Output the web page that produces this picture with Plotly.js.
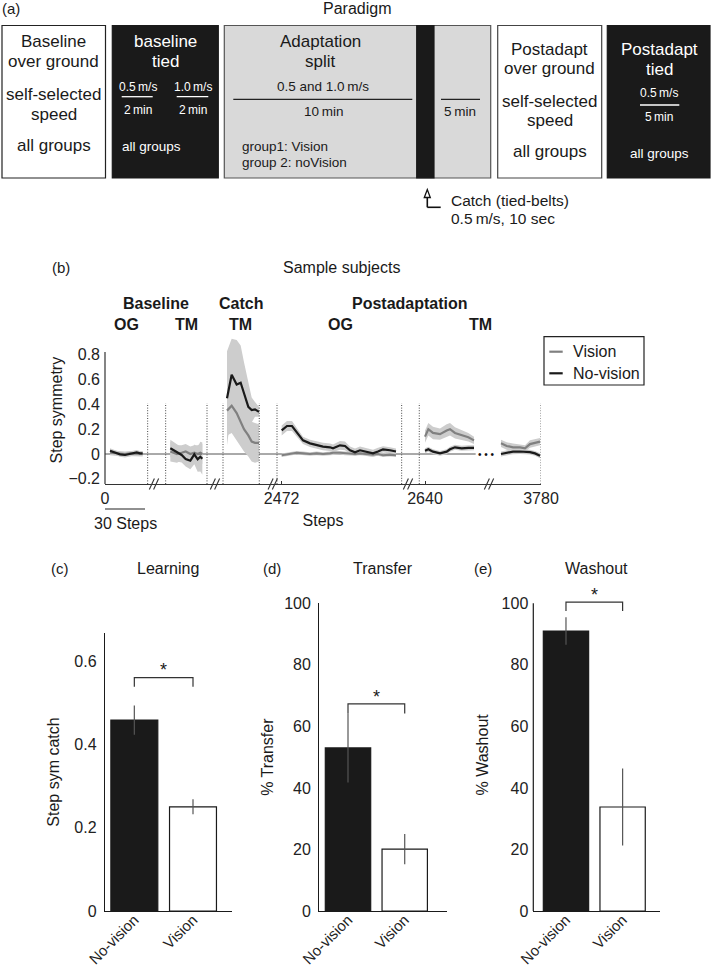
<!DOCTYPE html>
<html>
<head>
<meta charset="utf-8">
<script src="https://cdn.plot.ly/plotly-3.0.1.min.js"></script>
<style>html,body{margin:0;padding:0;background:#fff;}#chart{width:711px;height:971px;}</style>
</head>
<body>
<div id="chart"></div>
<script>
// ================= DATA =================
const groupNames = ['No-vision', 'Vision'];

// Panel (b): sample subjects, step symmetry; x = displayed steps on a broken axis
const baseOG_x    = [3.75, 7.5, 11.25, 15, 18.75, 21.25, 23.75, 26.25, 28.25];
const baseOG_nv   = [0.027, 0.01, -0.003, -0.008, 0.0, 0.01, 0.013, 0.005, 0.005];
const baseOG_v    = [0.01, 0.005, 0.0, 0.0, 0.005, 0.005, 0.0, 0.0, 0.0];
const baseOG_nvSd = [0.02, 0.02, 0.02, 0.02, 0.02, 0.02, 0.02, 0.02, 0.02];
const baseOG_vSd  = [0.02, 0.02, 0.02, 0.02, 0.02, 0.02, 0.02, 0.02, 0.02];

const baseTM_x    = [49, 54, 57.5, 60.5, 64, 67, 69.5, 71.5, 73];
const baseTM_nv   = [0.046, 0.01, -0.008, -0.04, -0.054, -0.003, -0.043, -0.022, -0.038];
const baseTM_v    = [0.02, 0.0, 0.01, 0.02, 0.0, 0.01, 0.0, 0.01, 0.0];
const baseTM_nvSd = [0.07, 0.07, 0.06, 0.06, 0.07, 0.08, 0.1, 0.12, 0.13];
const baseTM_vSd  = [0.08, 0.07, 0.06, 0.06, 0.06, 0.06, 0.07, 0.07, 0.08];

const catch_x     = [91.5, 95, 98.75, 101.75, 104.25, 107.5, 110, 112.5, 115.5];
const catch_nv    = [0.45, 0.64, 0.56, 0.575, 0.49, 0.38, 0.355, 0.36, 0.34];
const catch_v     = [0.35, 0.39, 0.33, 0.26, 0.2, 0.15, 0.1, 0.09, 0.09];
const catch_nvSd  = [0.38, 0.29, 0.36, 0.3, 0.25, 0.19, 0.1, 0.06, 0.04];
const catch_vSd   = [0.2, 0.22, 0.22, 0.2, 0.18, 0.17, 0.16, 0.16, 0.15];

const postOG_x    = [132.5, 136.5, 140.25, 143.75, 148.5, 153.75, 158.75, 163.5, 168.75, 171, 176.25, 180, 183.75, 187.5, 191.25, 196.25, 201, 204.75, 208.5, 213.75, 218.25];
const postOG_nv   = [0.19, 0.226, 0.226, 0.18, 0.11, 0.086, 0.07, 0.06, 0.054, 0.046, 0.07, 0.065, 0.03, 0.014, 0.03, 0.014, 0.005, 0.02, 0.038, 0.03, 0.02];
const postOG_v    = [-0.01, -0.005, 0.005, 0.01, 0.005, 0.0, 0.005, 0.0, 0.005, 0.01, 0.01, 0.005, 0.0, 0.0, 0.005, 0.0, -0.005, 0.0, -0.01, -0.005, -0.01];
const postOG_nvSd = [0.04, 0.04, 0.04, 0.035, 0.03, 0.03, 0.03, 0.03, 0.03, 0.03, 0.035, 0.035, 0.03, 0.03, 0.03, 0.03, 0.03, 0.03, 0.025, 0.025, 0.025];
const postOG_vSd  = [0.015, 0.015, 0.015, 0.015, 0.015, 0.015, 0.015, 0.015, 0.015, 0.015, 0.015, 0.015, 0.015, 0.015, 0.015, 0.015, 0.015, 0.015, 0.015, 0.015, 0.015];

const postTM1_x    = [240, 242.5, 246, 251.25, 256.25, 258.75, 262.5, 267.5, 272.5, 276.75];
const postTM1_nv   = [0.027, 0.038, 0.019, 0.005, 0.019, 0.038, 0.054, 0.046, 0.05, 0.05];
const postTM1_v    = [0.14, 0.2, 0.17, 0.16, 0.19, 0.2, 0.17, 0.15, 0.135, 0.11];
const postTM1_nvSd = [0.02, 0.02, 0.02, 0.02, 0.02, 0.02, 0.02, 0.02, 0.02, 0.02];
const postTM1_vSd  = [0.05, 0.05, 0.05, 0.045, 0.05, 0.05, 0.045, 0.04, 0.035, 0.03];

const postTM2_x    = [297, 301.25, 306, 311.25, 315, 318.75, 322.5, 326.25];
const postTM2_nv   = [0.0, 0.01, 0.019, 0.02, 0.02, 0.015, 0.005, -0.014];
const postTM2_v    = [0.086, 0.065, 0.054, 0.054, 0.046, 0.08, 0.09, 0.1];
const postTM2_nvSd = [0.02, 0.02, 0.02, 0.02, 0.02, 0.02, 0.02, 0.02];
const postTM2_vSd  = [0.03, 0.03, 0.03, 0.025, 0.025, 0.03, 0.03, 0.03];

const stepTickPos  = [0, 132.5, 240, 327];
const stepTickText = ['0', '2472', '2640', '3780'];
const boundaryX    = [32, 45.5, 76.5, 88.5, 115.7, 129, 222.5, 235.7, 327];
const breakX       = [36.75, 82.5, 125.8, 227.25, 288];
const scaleBarSteps = 30;

// Panels (c)-(e): group means and SE
const learnMean    = [0.458, 0.25];
const learnErr     = [0.035, 0.018];
const learnBracket = [0.538, 0.56];
const transferMean    = [53, 20.1];
const transferErr     = [11.2, 4.9];
const transferBracket = [64.2, 67.3];
const washoutMean    = [91, 33.8];
const washoutErr     = [4.5, 12.5];
const washoutBracket = [97.5, 100.4];

// ================= HELPERS =================
const W = 711, H = 971;
const FONT = 'Liberation Sans, Arial, Helvetica, sans-serif';
const PX = v => v / W;
const PY = v => 1 - v / H;
const DARK = '#1a1a1a', MID = '#808080', BAND = '#cdcdcd';

const traces = [];
const segs = [
  [baseOG_x, baseOG_nv, baseOG_v, baseOG_nvSd, baseOG_vSd],
  [baseTM_x, baseTM_nv, baseTM_v, baseTM_nvSd, baseTM_vSd],
  [catch_x, catch_nv, catch_v, catch_nvSd, catch_vSd],
  [postOG_x, postOG_nv, postOG_v, postOG_nvSd, postOG_vSd],
  [postTM1_x, postTM1_nv, postTM1_v, postTM1_nvSd, postTM1_vSd],
  [postTM2_x, postTM2_nv, postTM2_v, postTM2_nvSd, postTM2_vSd]
];
function bandTrace(x, m, sd) {
  const up = m.map((v, i) => v + sd[i]);
  const lo = m.map((v, i) => v - sd[i]);
  return {x: x.concat(x.slice().reverse()), y: up.concat(lo.slice().reverse()),
    type: 'scatter', mode: 'lines', fill: 'toself', fillcolor: BAND,
    line: {width: 0, color: BAND}, hoverinfo: 'skip', showlegend: false,
    xaxis: 'x', yaxis: 'y'};
}
segs.forEach(s => { traces.push(bandTrace(s[0], s[2], s[4])); traces.push(bandTrace(s[0], s[1], s[3])); });
segs.forEach(s => {
  traces.push({x: s[0], y: s[2], type: 'scatter', mode: 'lines', line: {color: MID, width: 2.2},
    showlegend: false, xaxis: 'x', yaxis: 'y', name: 'Vision'});
  traces.push({x: s[0], y: s[1], type: 'scatter', mode: 'lines', line: {color: DARK, width: 2.2},
    showlegend: false, xaxis: 'x', yaxis: 'y', name: 'No-vision'});
});

function barPanel(mean, err, bracket, ax) {
  traces.push({type: 'bar', x: groupNames, y: mean, width: 0.8,
    marker: {color: [DARK, '#ffffff'], line: {color: DARK, width: 1.2}},
    error_y: {type: 'data', array: err, visible: true, color: '#555', thickness: 1.2, width: 0},
    xaxis: 'x' + ax, yaxis: 'y' + ax, showlegend: false, hoverinfo: 'skip'});
  traces.push({type: 'scatter', mode: 'lines',
    x: [groupNames[0], groupNames[0], groupNames[1], groupNames[1]],
    y: [bracket[0], bracket[1], bracket[1], bracket[0]],
    line: {color: '#333', width: 1.2}, cliponaxis: false,
    xaxis: 'x' + ax, yaxis: 'y' + ax, showlegend: false, hoverinfo: 'skip'});
}
barPanel(learnMean, learnErr, learnBracket, 2);
barPanel(transferMean, transferErr, transferBracket, 3);
barPanel(washoutMean, washoutErr, washoutBracket, 4);

// ================= SHAPES =================
const shapes = [];
function rect(x0, y0, x1, y1, fill, line) {
  shapes.push({type: 'rect', xref: 'paper', yref: 'paper', x0: PX(x0), x1: PX(x1), y0: PY(y1), y1: PY(y0),
    fillcolor: fill, line: {color: line, width: 1.2}});
}
function seg(x0, y0, x1, y1, color, w) {
  shapes.push({type: 'line', xref: 'paper', yref: 'paper', x0: PX(x0), x1: PX(x1), y0: PY(y0), y1: PY(y1),
    line: {color: color, width: w || 1.3}});
}
// Panel (a) paradigm boxes
rect(2, 25.5, 105.5, 178, '#ffffff', '#222');
rect(112.3, 25.5, 218.3, 178, DARK, DARK);
rect(224.3, 25.5, 490.7, 178, '#d9d9d9', '#555');
rect(416.7, 25.5, 434, 178, DARK, DARK);
rect(497.7, 25.5, 601.7, 178, '#ffffff', '#444');
rect(607.3, 25.5, 710, 178, DARK, DARK);
seg(121.7, 96.7, 152.7, 96.7, '#fff');
seg(176.7, 96.7, 208.3, 96.7, '#fff');
seg(233.3, 99.3, 412.3, 99.3, '#222');
seg(441, 99.3, 480, 99.3, '#222');
seg(640, 105, 679.3, 105, '#fff');
// catch arrow
seg(427.3, 207.3, 427.3, 192, '#111', 1.6);
seg(427.3, 207.3, 440.7, 207.3, '#111', 1.6);
shapes.push({type: 'path', xref: 'paper', yref: 'paper',
  path: 'M ' + PX(424.3) + ' ' + PY(197.5) + ' L ' + PX(427.3) + ' ' + PY(189.5) + ' L ' + PX(430.3) + ' ' + PY(197.5) + ' Z',
  fillcolor: '#fff', line: {color: '#111', width: 1.3}});

// Panel (b) decorations
shapes.push({type: 'line', xref: 'x domain', yref: 'y', x0: 0, x1: 0, y0: -0.242, y1: 0.823,
  line: {color: '#333', width: 1.2}});
shapes.push({type: 'line', xref: 'x', yref: 'y', x0: 0, x1: 278, y0: 0, y1: 0, layer: 'below',
  line: {color: '#555', width: 1}});
boundaryX.forEach(b => shapes.push({type: 'line', xref: 'x', yref: 'y', x0: b, x1: b, y0: -0.242, y1: 0.41,
  line: {color: '#444', width: 1, dash: '1px,1.6px'}}));
// axis-break marks "//" drawn as two short slanted strokes
breakX.forEach(b => {
  [-1.6, 1.6].forEach(off => shapes.push({type: 'line', xref: 'x', yref: 'paper',
    x0: b + off - 1.9, x1: b + off + 1.9, y0: PY(489.5), y1: PY(478.5),
    line: {color: '#333', width: 1.1}}));
});
shapes.push({type: 'line', xref: 'x', yref: 'paper', x0: 0, x1: scaleBarSteps, y0: PY(509), y1: PY(509),
  line: {color: '#222', width: 1.2}});
// y axis line for (e), ending at 100
shapes.push({type: 'line', xref: 'x4 domain', yref: 'y4', x0: 0, x1: 0, y0: 0, y1: 100,
  line: {color: DARK, width: 1.2}});
// manual legend
rect(544, 336.7, 644, 385, '#ffffff', '#222');
seg(549.3, 351.7, 562.7, 351.7, MID, 2.2);
seg(549.3, 373.3, 562.7, 373.3, DARK, 2.2);

// ================= ANNOTATIONS =================
const ann = [];
function T(text, x, y, size, opts) {
  opts = opts || {};
  ann.push({text: text, x: PX(x), y: PY(y), xref: 'paper', yref: 'paper', showarrow: false,
    xanchor: opts.anchor || 'center', yanchor: 'middle',
    font: {family: FONT, size: size, color: opts.color || '#1a1a1a'}});
}
const WH = '#ffffff';
T('(a)', 11, 8, 15);
T('Paradigm', 357, 8, 16);
// box 1
T('Baseline', 53.5, 41, 17); T('over ground', 53.5, 61, 17);
T('self-selected', 53.5, 95, 17); T('speed', 53.5, 114.5, 17); T('all groups', 53.5, 145.5, 17);
// box 2
T('baseline', 165.3, 41, 17, {color: WH}); T('tied', 165.3, 61, 17, {color: WH});
T('0.5\u2009m/s', 137.8, 86.7, 12, {color: WH}); T('1.0\u2009m/s', 192.8, 86.7, 12, {color: WH});
T('2\u2009min', 137.8, 110, 12, {color: WH}); T('2\u2009min', 192.8, 110, 12, {color: WH});
T('all groups', 120, 146, 13.5, {color: WH, anchor: 'left'});
// box 3
T('Adaptation', 320, 41, 17); T('split', 320, 61, 17);
T('0.5 and 1.0\u2009m/s', 323, 86, 13.5); T('10\u2009min', 323, 112, 13.5);
T('group1: Vision', 240, 146, 13.5, {anchor: 'left'});
T('group 2: noVision', 240, 162.7, 13.5, {anchor: 'left'});
T('5\u2009min', 460, 112, 13.5);
// box 4
T('Postadapt', 549.7, 49.3, 17); T('over ground', 549.7, 68.3, 17);
T('self-selected', 549.7, 101.7, 17); T('speed', 549.7, 120.7, 17); T('all groups', 549.7, 151.7, 17);
// box 5
T('Postadapt', 659.3, 49.3, 17, {color: WH}); T('tied', 659.3, 70, 17, {color: WH});
T('0.5\u2009m/s', 659.3, 93.3, 12, {color: WH}); T('5\u2009min', 659.3, 117.3, 12, {color: WH});
T('all groups', 659.3, 154, 13.5, {color: WH});
// catch note
T('Catch (tied-belts)', 449.3, 200, 15.5, {anchor: 'left'});
T('0.5\u2009m/s, 10 sec', 449.3, 218.3, 15.5, {anchor: 'left'});

// Panel (b)
T('(b)', 61, 267, 15);
T('Sample subjects', 341, 267, 16);
function phase(text, xs, y) {
  ann.push({text: '<b>' + text + '</b>', x: xs, y: PY(y), xref: 'x', yref: 'paper', showarrow: false,
    xanchor: 'center', yanchor: 'middle', font: {family: FONT, size: 16, color: '#1a1a1a'}});
}
phase('Baseline', 38.25, 303); phase('Catch', 101.8, 303); phase('Postadaptation', 228.75, 303);
phase('OG', 15.75, 324); phase('TM', 60.75, 324); phase('TM', 101.8, 324);
phase('OG', 176.25, 324); phase('TM', 281.8, 324);
ann.push({text: '\u2022 \u2022 \u2022', x: 286, y: 0, xref: 'x', yref: 'y', showarrow: false,
  xanchor: 'center', yanchor: 'middle', font: {family: FONT, size: 10, color: '#111'}});
ann.push({text: '30 Steps', x: scaleBarSteps / 2, y: PY(523), xref: 'x', yref: 'paper', showarrow: false,
  xanchor: 'center', yanchor: 'middle', font: {family: FONT, size: 16, color: '#1a1a1a'}});
T('Vision', 570.7, 351.7, 16, {anchor: 'left'});
T('No-vision', 570.7, 373.3, 16, {anchor: 'left'});

// Panels (c)-(e)
T('(c)', 60, 568, 15); T('Learning', 168, 568, 16);
T('(d)', 271.7, 568, 15); T('Transfer', 383.3, 568, 16);
T('(e)', 483.3, 568, 15); T('Washout', 596.7, 568, 16);
function star(ax, ypx) {
  ann.push({text: '*', x: 0.5, y: PY(ypx), xref: 'x' + ax, yref: 'paper', showarrow: false,
    xanchor: 'center', yanchor: 'middle', font: {family: FONT, size: 18, color: '#1a1a1a'}});
}
star(2, 670); star(3, 697.3); star(4, 594.7);

// ================= LAYOUT =================
const tickFont = {family: FONT, size: 16, color: '#222'};
function barX(dom, rng) {
  return {domain: dom, range: rng, type: 'category', showline: true, linecolor: DARK, linewidth: 1.2,
    ticks: '', showgrid: false, zeroline: false, tickangle: -45, tickfont: {family: FONT, size: 15, color: '#222'},
    ticklabelstandoff: -7, fixedrange: true};
}
function barY(dom, rng, dtick, title, standoff, line) {
  return {domain: dom, range: rng, dtick: dtick, tick0: 0, showline: line, linecolor: DARK, linewidth: 1.2,
    ticks: '', showgrid: false, zeroline: false, tickfont: tickFont, ticklabelstandoff: 4,
    title: {text: title, font: {family: FONT, size: 16, color: '#1a1a1a'}, standoff: standoff}};
}
// (b): 123.94 px per unit, axis bottom at 484 px
const bTop = 0.95;
const layout = {
  width: W, height: H, margin: {l: 0, r: 0, t: 0, b: 0}, paper_bgcolor: '#fff', plot_bgcolor: 'rgba(0,0,0,0)',
  showlegend: false, font: {family: FONT, color: '#1a1a1a'},
  xaxis: {domain: [PX(105), PX(541)], range: [0, 327], showline: true, linecolor: '#333', linewidth: 1.2,
    showgrid: false, zeroline: false, tickvals: stepTickPos, ticktext: stepTickText, ticks: 'inside', ticklen: 3,
    tickcolor: '#333', tickfont: tickFont,
    title: {text: 'Steps', font: {family: FONT, size: 16, color: '#1a1a1a'}, standoff: 8}},
  yaxis: {domain: [PY(484), PY(484 - (bTop + 0.242) * 123.94)], range: [-0.242, bTop], showline: false,
    showgrid: false, zeroline: false, tickvals: [-0.2, 0, 0.2, 0.4, 0.6, 0.8],
    ticktext: ['\u22120.2', '0', '0.2', '0.4', '0.6', '0.8'], ticks: '', tickfont: tickFont, ticklabelstandoff: 4,
    title: {text: 'Step symmetry', font: {family: FONT, size: 16, color: '#1a1a1a'}, standoff: 1}},
  xaxis2: barX([PX(105), PX(232.3)], [-0.5, 1.67]),
  yaxis2: barY([PY(911), PY(633)], [0, 0.667], 0.2, 'Step sym catch', 10, true),
  xaxis3: barX([PX(319.3), PX(446.7)], [-0.506, 1.74]),
  yaxis3: barY([PY(911), PY(603.3)], [0, 100], 20, '% Transfer', 6, true),
  xaxis4: barX([PX(533.3), PX(660)], [-0.577, 1.66]),
  yaxis4: barY([PY(911), PY(911 - 101.5 * 3.077)], [0, 101.5], 20, '% Washout', 8, false),
  shapes: shapes, annotations: ann
};
layout.xaxis2.anchor = 'y2'; layout.yaxis2.anchor = 'x2';
layout.xaxis3.anchor = 'y3'; layout.yaxis3.anchor = 'x3';
layout.xaxis4.anchor = 'y4'; layout.yaxis4.anchor = 'x4';

Plotly.newPlot('chart', traces, layout, {displayModeBar: false, staticPlot: true});
</script>
</body>
</html>
